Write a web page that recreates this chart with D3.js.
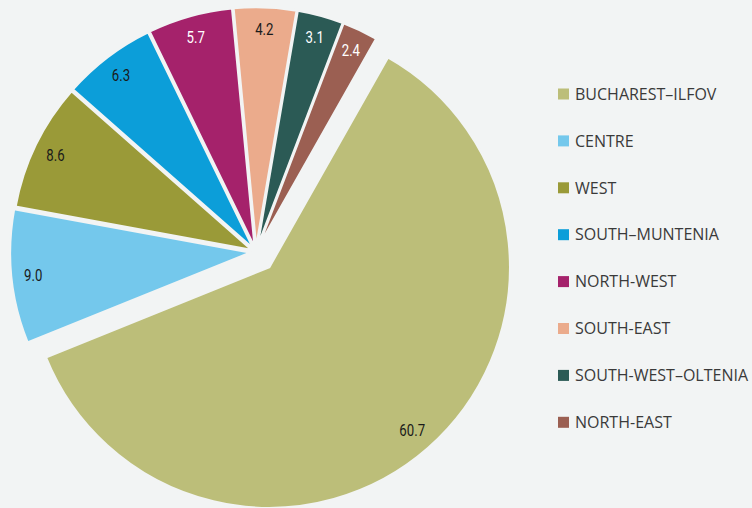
<html>
  <head>
    <script src="https://d3js.org/d3.v7.min.js" charset="utf-8"></script>
    <style>
      body { margin: 0; background: #f2f4f4; }
    </style>
  </head>
  <body>
    <script>
      var w = 752;
      var h = 508;

      // regions and their share (%)
      var regions = ["BUCHAREST–ILFOV", "CENTRE", "WEST", "SOUTH–MUNTENIA",
                     "NORTH-WEST", "SOUTH-EAST", "SOUTH-WEST–OLTENIA", "NORTH-EAST"];
      var shares = [60.7, 9.0, 8.6, 6.3, 5.7, 4.2, 3.1, 2.4];
      var colors = ["#bcbe79", "#74c8ec", "#9a9a38", "#0c9ed9",
                    "#a5226b", "#ebab8c", "#2b5a55", "#9b5f52"];
      var labelColors = ["#1a1a1a", "#1a1a1a", "#1a1a1a", "#1a1a1a",
                         "#ffffff", "#1a1a1a", "#ffffff", "#ffffff"];

      var svg = d3.select("body")
        .append("svg")
        .attr("width", w)
        .attr("height", h);

      svg.append("rect").attr("width", w).attr("height", h).attr("fill", "#f2f4f4");

      var cx = 256, cy = 252, r = 241;
      var startA = 29.5 * Math.PI / 180;

      var pie = d3.pie().sort(null).value(function(d){ return d; })
        .startAngle(startA).endAngle(startA + 2 * Math.PI);
      var arcs = pie(shares);

      var arc = d3.arc().innerRadius(0).outerRadius(r);

      // explode: big slice pushed out, the rest only a little
      var explode = [20, 5, 4, 4, 4, 4, 4, 4];
      function offset(d, i){
        var a = (d.startAngle + d.endAngle) / 2;
        return [Math.sin(a) * explode[i], -Math.cos(a) * explode[i]];
      }

      var g = svg.append("g").attr("transform", "translate(" + cx + "," + cy + ")");

      var slices = g.selectAll(".slice")
        .data(arcs)
        .enter()
        .append("g")
        .attr("class", "slice")
        .attr("transform", function(d, i){ var o = offset(d, i); return "translate(" + o[0] + "," + o[1] + ")"; });

      slices.append("path")
        .attr("d", arc)
        .attr("fill", function(d, i){ return colors[i]; })
        .attr("stroke", "#f2f4f4")
        .attr("stroke-width", 2.5)
        .attr("stroke-linejoin", "round");

      slices.append("text")
        .attr("transform", function(d, i){
          var lr = i == 0 ? 217 : 219;
          var p = d3.arc().innerRadius(lr).outerRadius(lr).centroid(d);
          return "translate(" + p[0] + "," + p[1] + ") scale(0.8,1)";
        })
        .attr("text-anchor", "middle")
        .attr("dy", "0.36em")
        .attr("font-family", "Roboto, 'Liberation Sans', sans-serif")
        .attr("font-size", 16.5)
        .attr("fill", function(d, i){ return labelColors[i]; })
        .text(function(d, i){ return shares[i].toFixed(1); });

      // legend
      var legend = svg.selectAll(".legend")
        .data(regions)
        .enter()
        .append("g")
        .attr("class", "legend")
        .attr("transform", function(d, i){ return "translate(558," + (94 + i * 46.9) + ")"; });

      legend.append("rect")
        .attr("x", 0)
        .attr("y", -5.5)
        .attr("width", 11)
        .attr("height", 11)
        .attr("fill", function(d, i){ return colors[i]; });

      legend.append("text")
        .attr("x", 17)
        .attr("dy", "0.36em")
        .attr("font-family", "'Open Sans', sans-serif")
        .attr("font-size", 16)
        .attr("fill", "#3a3a3a")
        .text(function(d){ return d; });
    </script>
  </body>
</html>
